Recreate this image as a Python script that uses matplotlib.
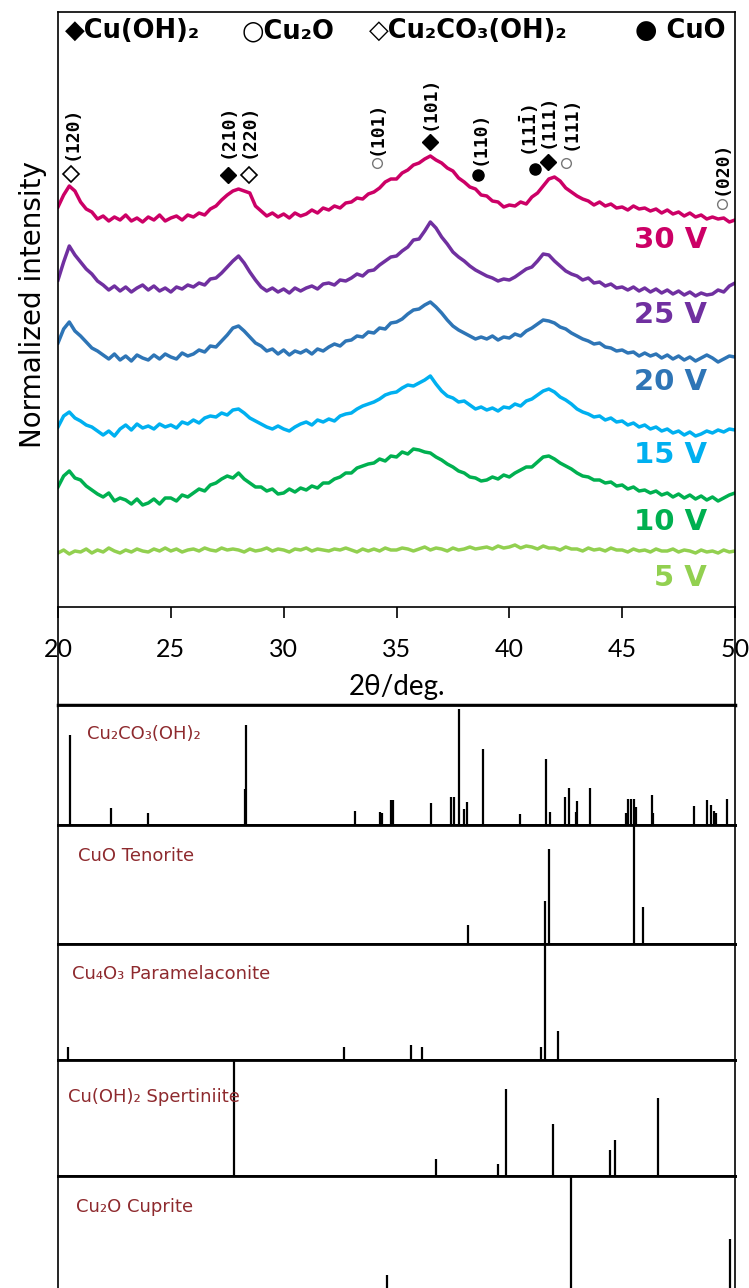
import numpy as np
import matplotlib.pyplot as plt

plt.rcParams['mathtext.fontset'] = 'custom'
plt.rcParams['mathtext.bf'] = 'DejaVu Sans Mono:bold'

# measured XRD traces (stacked, arbitrary units), 0.25 deg steps
two_theta = np.linspace(20, 50, 121)

i_30v = [400, 412, 421, 416, 405, 398, 395, 388, 391, 386, 390, 387,
         392, 386, 389, 385, 390, 387, 392, 386, 389, 391, 387, 392,
         390, 394, 392, 398, 401, 407, 412, 416, 418, 416, 414, 401,
         396, 391, 394, 390, 393, 389, 394, 391, 393, 397, 394, 399,
         397, 401, 399, 404, 405, 409, 408, 413, 415, 419, 425, 428,
         428, 434, 437, 442, 444, 448, 451, 447, 444, 439, 436, 429,
         425, 420, 418, 412, 411, 406, 405, 400, 402, 401, 405, 403,
         410, 414, 421, 428, 430, 426, 419, 415, 411, 408, 406, 402,
         405, 401, 403, 399, 400, 397, 401, 398, 399, 396, 398, 394,
         397, 393, 395, 391, 394, 390, 392, 388, 390, 388, 389, 385,
         387]
i_25v = [327, 345, 361, 352, 345, 338, 333, 326, 322, 317, 321, 316,
         320, 315, 319, 322, 317, 321, 316, 319, 315, 320, 318, 322,
         320, 324, 322, 328, 329, 334, 340, 346, 351, 344, 335, 327,
         320, 316, 319, 315, 318, 314, 319, 316, 319, 321, 318, 323,
         324, 322, 327, 326, 329, 333, 331, 336, 337, 342, 346, 350,
         351, 356, 360, 367, 368, 376, 385, 379, 370, 363, 355, 350,
         346, 341, 337, 334, 331, 329, 326, 328, 327, 330, 334, 338,
         340, 346, 353, 352, 346, 341, 336, 333, 331, 327, 329, 324,
         325, 321, 323, 319, 320, 317, 320, 316, 319, 315, 318, 314,
         317, 313, 316, 312, 315, 311, 314, 312, 313, 317, 315, 321,
         324]
i_20v = [264, 278, 285, 276, 271, 265, 259, 256, 252, 248, 253, 247,
         251, 246, 252, 249, 247, 252, 248, 253, 250, 248, 254, 251,
         253, 257, 255, 261, 260, 266, 272, 279, 281, 276, 270, 264,
         261, 256, 258, 253, 257, 252, 256, 254, 257, 253, 258, 256,
         260, 263, 261, 266, 267, 271, 270, 275, 274, 279, 278, 284,
         285, 288, 293, 297, 298, 302, 305, 300, 294, 287, 281, 277,
         274, 271, 268, 270, 268, 271, 267, 270, 269, 273, 271, 276,
         279, 283, 287, 286, 284, 280, 278, 274, 271, 268, 266, 263,
         264, 260, 259, 256, 257, 254, 255, 251, 254, 251, 253, 249,
         252, 248, 251, 247, 250, 246, 249, 252, 249, 245, 248, 251,
         250]
i_15v = [180, 191, 195, 189, 186, 182, 180, 176, 172, 176, 171, 178,
         182, 177, 183, 179, 181, 178, 183, 180, 182, 179, 185, 183,
         187, 184, 189, 191, 190, 194, 192, 197, 198, 194, 189, 186,
         183, 180, 178, 181, 178, 176, 180, 183, 185, 182, 187, 185,
         188, 186, 191, 193, 194, 198, 201, 203, 205, 208, 212, 214,
         215, 219, 222, 221, 224, 227, 231, 223, 216, 211, 209, 205,
         206, 202, 198, 200, 197, 199, 196, 200, 199, 203, 201, 206,
         208, 212, 216, 218, 215, 210, 207, 203, 198, 195, 193, 190,
         191, 187, 189, 185, 186, 182, 184, 180, 182, 178, 180, 176,
         178, 174, 176, 172, 175, 171, 173, 176, 174, 177, 175, 178,
         177]
i_10v = [120, 131, 136, 129, 127, 121, 117, 113, 110, 114, 106, 109,
         107, 103, 108, 102, 104, 108, 103, 109, 109, 106, 112, 110,
         114, 118, 116, 122, 124, 128, 131, 129, 134, 128, 124, 120,
         120, 116, 118, 113, 114, 118, 115, 119, 117, 121, 119, 124,
         124, 128, 130, 134, 134, 139, 141, 143, 144, 148, 146, 151,
         150, 155, 153, 158, 157, 155, 154, 150, 147, 143, 140, 136,
         134, 130, 129, 126, 127, 130, 128, 132, 130, 134, 137, 140,
         140, 145, 150, 151, 148, 144, 141, 138, 134, 131, 130, 127,
         127, 124, 125, 121, 122, 118, 120, 116, 117, 114, 116, 112,
         114, 110, 113, 109, 112, 108, 111, 107, 110, 106, 109, 112,
         114]
i_5v = [54, 57, 53, 56, 55, 58, 54, 57, 55, 59, 56, 54,
        57, 55, 58, 56, 55, 58, 56, 59, 56, 58, 55, 57,
        58, 56, 59, 57, 56, 59, 57, 58, 57, 55, 58, 56,
        57, 59, 56, 58, 57, 55, 58, 57, 59, 56, 58, 57,
        56, 58, 57, 59, 57, 55, 58, 56, 58, 56, 59, 57,
        57, 59, 58, 56, 58, 60, 57, 59, 58, 56, 59, 57,
        58, 60, 58, 59, 60, 58, 61, 59, 60, 62, 59, 61,
        60, 58, 61, 59, 59, 57, 60, 58, 58, 56, 59, 57,
        58, 56, 59, 57, 57, 55, 58, 56, 57, 55, 58, 56,
        56, 58, 55, 57, 56, 54, 57, 55, 56, 54, 57, 55,
        56]

traces = [i_30v, i_25v, i_20v, i_15v, i_10v, i_5v]
voltages = ['30 V', '25 V', '20 V', '15 V', '10 V', '5 V']
colors = ['#cc0066', '#7030a0', '#2e75b6', '#00b0f0', '#00b050', '#92d050']
label_y = [367, 292, 225, 152, 85, 29]

# peak assignments on the 30 V trace
peak_pos = [20.58, 27.53, 28.46, 34.13, 36.48, 38.61, 41.13, 41.71, 42.51, 49.42]
text_pos = [20.62, 27.53, 28.46, 34.13, 36.48, 38.70, 40.87, 41.71, 42.73, 49.42]
peak_hkl = ['(120)', '(210)', '(220)', '(101)', '(101)', '(110)',
            r'$\mathbf{(11\bar{1})}$', '(111)', '(111)', '(020)']
peak_phase = ['malachite', 'hydroxide', 'malachite', 'cu2o', 'hydroxide',
              'cuo', 'cuo', 'hydroxide', 'cu2o', 'cu2o']
marker_y = [433, 432, 432, 444, 465, 432, 438, 445, 444, 403]
text_y = [447, 449, 449, 452, 477, 442, 450, 459, 457, 412]

phase_style = {
    'hydroxide': dict(marker='D', ms=8, mfc='black', mec='black'),
    'malachite': dict(marker='D', ms=8, mfc='white', mec='black', mew=1.2),
    'cu2o': dict(marker='o', ms=7, mfc='white', mec='#777777', mew=1.0),
    'cuo': dict(marker='o', ms=8, mfc='black', mec='black'),
}

# reference stick patterns
ref_names = ['Cu₂CO₃(OH)₂', 'CuO Tenorite', 'Cu₄O₃ Paramelaconite',
             'Cu(OH)₂ Spertiniite', 'Cu₂O Cuprite']
malachite_pos = [20.54, 22.35, 23.97, 28.27, 28.32, 33.16, 34.27, 34.36, 34.75,
                 34.84, 36.55, 37.43, 37.55, 37.79, 37.99, 38.12, 38.82, 40.47,
                 41.64, 41.78, 42.48, 42.64, 42.95, 42.99, 43.57, 45.17, 45.26,
                 45.37, 45.51, 45.61, 46.32, 46.36, 48.18, 48.75, 48.95, 49.05,
                 49.15, 49.64]
malachite_int = [0.75, 0.14, 0.10, 0.30, 0.83, 0.12, 0.11, 0.10, 0.21,
                 0.21, 0.18, 0.23, 0.23, 0.97, 0.135, 0.19, 0.63, 0.09,
                 0.55, 0.11, 0.23, 0.31, 0.11, 0.20, 0.31, 0.10, 0.22,
                 0.22, 0.22, 0.15, 0.25, 0.10, 0.16, 0.21, 0.17, 0.12,
                 0.10, 0.22]
tenorite_pos = [38.15, 41.60, 41.75, 45.51, 45.92]
tenorite_int = [0.16, 0.36, 0.80, 1.0, 0.31]
paramelaconite_pos = [20.44, 32.67, 35.63, 36.13, 41.40, 41.56, 42.14]
paramelaconite_int = [0.115, 0.11, 0.13, 0.11, 0.11, 1.0, 0.25]
spertiniite_pos = [27.78, 36.75, 39.50, 39.84, 41.94, 44.44, 44.67, 46.57]
spertiniite_int = [1.0, 0.15, 0.10, 0.75, 0.45, 0.22, 0.31, 0.67]
cuprite_pos = [34.59, 42.73, 49.76]
cuprite_int = [0.175, 1.0, 0.475]

ref_pos = [malachite_pos, tenorite_pos, paramelaconite_pos, spertiniite_pos, cuprite_pos]
ref_int = [malachite_int, tenorite_int, paramelaconite_int, spertiniite_int, cuprite_int]
ref_label_xy = [(0.043, 0.83), (0.03, 0.815), (0.02, 0.82), (0.015, 0.76), (0.027, 0.82)]

W, H = 749, 1288
fig = plt.figure(figsize=(W / 100, H / 100), dpi=100)


def rect(left, top, right, bottom):
    return [left / W, 1 - bottom / H, (right - left) / W, (bottom - top) / H]


ax = fig.add_axes(rect(58, 12, 735, 607))
for y, c in zip(traces, colors):
    ax.plot(two_theta, y, color=c, lw=2.5)
for lab, c, ly in zip(voltages, colors, label_y):
    ax.text(48.75, ly, lab, color=c, fontsize=21, fontweight='bold',
            ha='right', va='center')

for x, tx, hkl, ph, my, ty in zip(peak_pos, text_pos, peak_hkl, peak_phase,
                                  marker_y, text_y):
    ax.plot([x], [my], ls='none', **phase_style[ph])
    ax.text(tx, ty, hkl, rotation=90, ha='center', va='bottom',
            family='DejaVu Sans Mono', fontweight='bold', fontsize=13)

legend_items = [(20.3, '◆Cu(OH)₂'), (28.15, '○Cu₂O'),
                (33.8, '◇Cu₂CO₃(OH)₂'), (45.55, '● CuO')]
for x, s in legend_items:
    ax.text(x, 576, s, ha='left', va='center', fontsize=18.5, fontweight='bold')

ax.set_xlim(20, 50)
ax.set_ylim(0, 595)
ax.set_xticks(range(20, 51, 5))
ax.set_yticks([])
ax.tick_params(axis='x', direction='out', length=8, width=1.2, pad=14,
               labelsize=18)
for t in ax.get_xticklabels():
    t.set_family(['Lato', 'DejaVu Sans'])
for s in ax.spines.values():
    s.set_linewidth(1.2)

# box around the axis title area
frame = fig.add_axes(rect(58, 607, 735, 705))
frame.patch.set_alpha(0)
frame.set_xticks([])
frame.set_yticks([])
frame.spines['top'].set_visible(False)
frame.spines['bottom'].set_linewidth(2.5)
for side in ['left', 'right']:
    frame.spines[side].set_linewidth(1.2)

fig.text(396.5 / W, 1 - 687 / H, '2θ/deg.', ha='center', va='center',
         fontsize=20, family=['Lato', 'DejaVu Sans'])
fig.text(33 / W, 1 - 305 / H, 'Normalized intensity', rotation=90,
         ha='center', va='center', fontsize=20)

tops = [705, 825, 944, 1060, 1176]
bottoms = [825, 944, 1060, 1176, 1296]
for name, pos, inten, (lx, ly), t, b in zip(ref_names, ref_pos, ref_int,
                                            ref_label_xy, tops, bottoms):
    rax = fig.add_axes(rect(58, t, 735, b))
    rax.vlines(pos, 0, inten, color='black', lw=1.6)
    rax.set_xlim(20, 50)
    rax.set_ylim(0, 1)
    rax.set_xticks([])
    rax.set_yticks([])
    for side in ['top', 'bottom']:
        rax.spines[side].set_linewidth(2.0)
    for side in ['left', 'right']:
        rax.spines[side].set_linewidth(1.2)
    rax.text(lx, ly, name, transform=rax.transAxes, ha='left', va='top',
             fontsize=13, color='#8e2a2e')

fig.savefig('out.png', dpi=100)
